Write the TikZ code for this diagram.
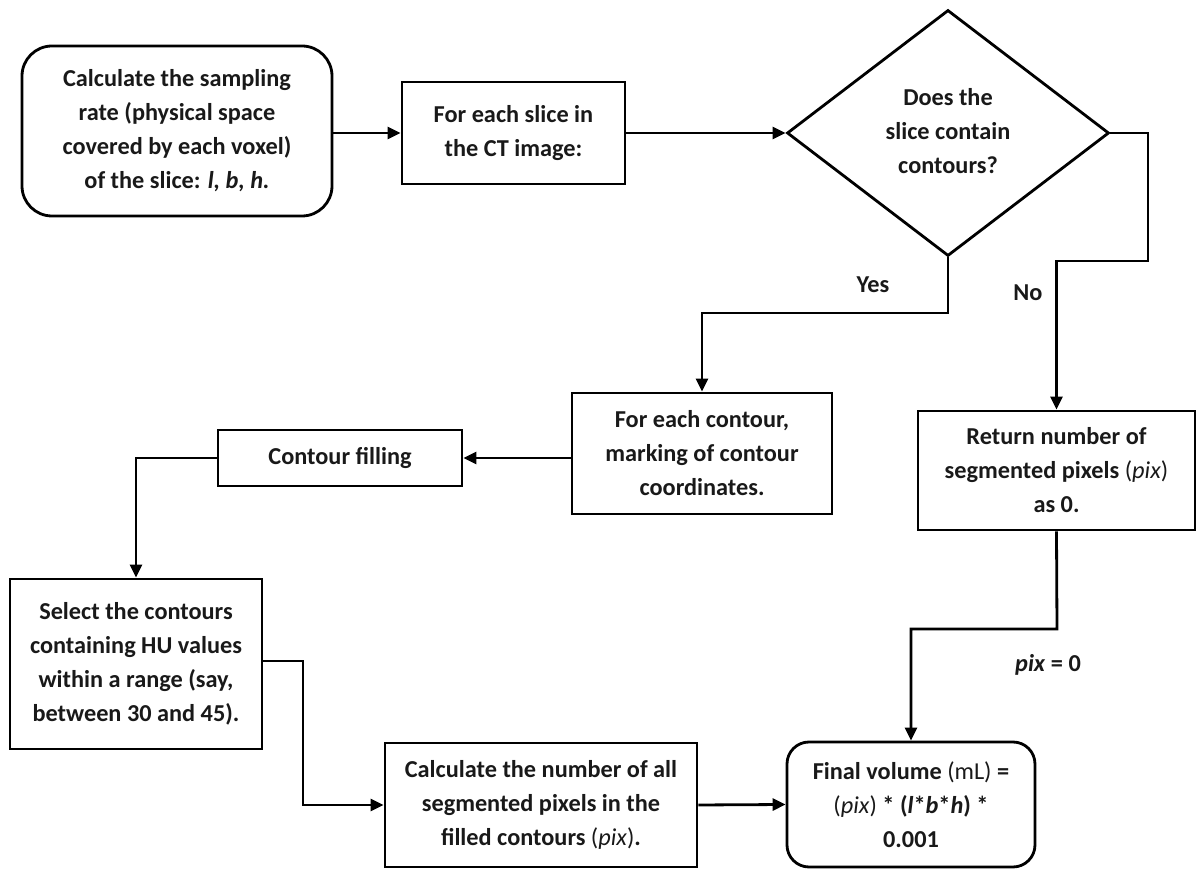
\documentclass[tikz,border=0pt]{standalone}
\usepackage{fontspec}
\setmainfont{Carlito}
\usetikzlibrary{arrows.meta,shapes.geometric}
\begin{document}
\begin{tikzpicture}[x=0.5pt,y=-0.5pt,
  txt/.style={font=\fontsize{12.15}{17}\selectfont\bfseries, align=center, inner sep=1pt, text=black!90},
  box/.style={txt, draw, line width=1.4pt, rectangle},
  rbox/.style={box, rounded corners=#1},
  decision/.style={draw, line width=1.4pt, diamond, inner sep=0pt},
  arr/.style={line width=1.4pt, -{Triangle[length=6.5pt,width=6pt]}},
  link/.style={line width=1.4pt}]
\useasboundingbox[fill=white] (0,0) rectangle (1196,870);

% nodes
\node[rbox=15pt, minimum width=155pt, minimum height=85pt] (A) at (177,131)
  {Calculate the sampling\\rate (physical space\\covered by each voxel)\\of the slice: \textit{l, b, h.}};
\node[box, minimum width=111.5pt, minimum height=51pt] (B) at (513.5,133)
  {For each slice in\\the CT image:};
\node[decision, minimum width=161pt, minimum height=123pt] (D) at (948,133) {};
\node[txt] (Dt) at (948,131) {Does the\\slice contain\\contours?};
\node[box, minimum width=130pt, minimum height=60.5pt] (C) at (702,453.5)
  {For each contour,\\marking of contour\\coordinates.};
\node[box, minimum width=122pt, minimum height=28pt] (F) at (340,458) {Contour filling};
\node[box, minimum width=126pt, minimum height=85pt] (S) at (136,664)
  {Select the contours\\containing HU values\\within a range (say,\\between 30 and 45).};
\node[box, minimum width=156pt, minimum height=62pt] (K) at (541,805)
  {Calculate the number of all\\segmented pixels in the\\filled contours {\mdseries(\textit{pix})}.};
\node[box, minimum width=138.5pt, minimum height=59.5pt] (R) at (1056.5,470.5)
  {Return number of\\segmented pixels {\mdseries(\textit{pix})}\\as 0.};
\node[rbox=11pt, minimum width=124pt, minimum height=62.5pt] (V) at (911,804.5)
  {Final volume {\mdseries(mL)} =\\{\mdseries(\textit{pix})} * (\textit{l}*\textit{b}*\textit{h}) *\\0.001};

% labels
\node[txt] (yes) at (873,285) {Yes};
\node[txt] (no) at (1028,293) {No};
\node[txt] (pz) at (1048,665) {\textit{pix} = 0};

% corner coordinates
\coordinate (n1) at (1148,261);
\coordinate (y1) at (948,313);
\coordinate (s1) at (303,661);
\coordinate (r1) at (1057,629);

% connectors
\draw[arr] (A.east |- B.west) -- (B.west);
\draw[arr] (B.east) -- (D.west);
\draw[arr] (D.east) -| (n1) -| (R.north);
\draw[arr] (D.south) -- (y1) -| (C.north);
\draw[arr] (C.west |- F.east) -- (F.east);
\draw[arr] (F.west) -| (S.north);
\draw[arr] (S.east |- s1) -- (s1) |- (K.west);
\draw[arr] (K.east) -- (V.west);
\draw[arr] (R.south) -- (r1) -| (V.north);
\end{tikzpicture}
\end{document}
